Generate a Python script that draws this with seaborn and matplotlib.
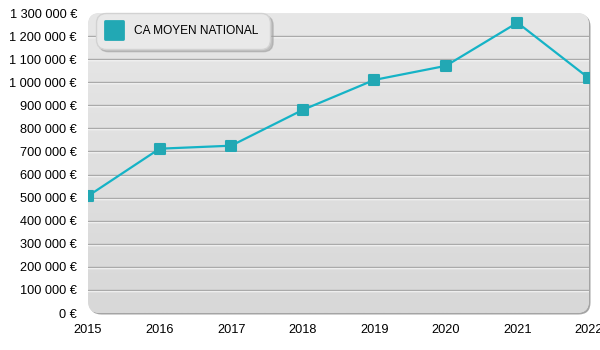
import numpy as np
import pandas as pd
import matplotlib
matplotlib.use("Agg")
import matplotlib.pyplot as plt
import matplotlib.transforms as mtransforms
from matplotlib.patches import FancyBboxPatch
from matplotlib.markers import MarkerStyle
from matplotlib.lines import Line2D
import seaborn as sns

# ---- data ----
years = [2015, 2016, 2017, 2018, 2019, 2020, 2021, 2022]
ca_moyen = [507000, 712000, 725000, 880000, 1010000, 1071000, 1258000, 1017000]
series_label = "CA MOYEN NATIONAL"
y_ticks = [0, 100000, 200000, 300000, 400000, 500000, 600000, 700000,
           800000, 900000, 1000000, 1100000, 1200000, 1300000]
grid_values = y_ticks[1:-1]

df = pd.DataFrame({"year": years, "ca": ca_moyen})

sns.set_style("white")
plt.rcParams["font.family"] = ["Liberation Sans", "DejaVu Sans"]
plt.rcParams["text.color"] = "black"

W, H, DPI = 600, 350, 100
FS = 9.2
LFS = 8.6
fig = plt.figure(figsize=(W / DPI, H / DPI), dpi=DPI)
L, R, T, B = 88, 589, 13, 313
ax = fig.add_axes([L / W, 1 - B / H, (R - L) / W, (B - T) / H])
ax.set_zorder(2)
ax.patch.set_visible(False)
for s in ax.spines.values():
    s.set_visible(False)

# rounded plot background + shadow (pixel coordinates)
ident = mtransforms.IdentityTransform()
shadow = FancyBboxPatch((L + 1.5, H - B - 1.5), R - L, B - T,
                        boxstyle="round,pad=0,rounding_size=12",
                        transform=ident, facecolor="#a4a4a4", edgecolor="none",
                        zorder=-2)
fig.add_artist(shadow)
bg = FancyBboxPatch((L, H - B), R - L, B - T,
                    boxstyle="round,pad=0,rounding_size=12",
                    transform=ident, facecolor="#e0e0e0", edgecolor="none",
                    zorder=-1)
fig.add_artist(bg)

ax.set_xlim(years[0], years[-1])
ax.set_ylim(y_ticks[0], y_ticks[-1])

grad = np.linspace(0, 1, 256).reshape(-1, 1)
cmap = matplotlib.colors.LinearSegmentedColormap.from_list("g", ["#e7e7e7", "#d8d8d8"])
im = ax.imshow(grad, extent=[years[0], years[-1], y_ticks[0], y_ticks[-1]],
               aspect="auto", cmap=cmap, zorder=0.6, origin="upper")
im.set_clip_path(bg)

# embossed grid lines
off = mtransforms.ScaledTranslation(0, -1.0 / DPI, fig.dpi_scale_trans)
ytrans = ax.get_yaxis_transform()
for v in grid_values:
    ax.plot([0, 1], [v, v], transform=ytrans + off, color="white", lw=1.0, zorder=1)
    ax.plot([0, 1], [v, v], transform=ytrans, color="#aaaaaa", lw=1.0, zorder=1.1)

line_color = "#15b3c6"
marker_color = "#22a8b4"
sq = MarkerStyle("s", joinstyle="round")
sns.lineplot(data=df, x="year", y="ca", ax=ax, color=line_color, lw=1.6,
             marker=sq, markersize=7.2, markerfacecolor=marker_color,
             markeredgecolor=marker_color, markeredgewidth=1.5, zorder=3)

ax.set_xlabel("")
ax.set_ylabel("")
ax.set_xticks(years)
ax.set_xticklabels([str(y) for y in years])
ax.set_yticks(y_ticks)
ax.set_yticklabels([f"{v:,}".replace(",", " ") + " €" for v in y_ticks])
ax.tick_params(axis="both", length=0, labelsize=FS, colors="black")
ax.tick_params(axis="y", pad=8)
ax.tick_params(axis="x", pad=8)
ax.grid(False)

handle = Line2D([], [], linestyle="", marker=sq, markersize=13,
                markerfacecolor=marker_color, markeredgecolor=marker_color,
                markeredgewidth=2)
leg = ax.legend([handle], [series_label], loc="upper left",
                bbox_to_anchor=(96 / W, 1 - 13 / H), bbox_transform=fig.transFigure,
                borderaxespad=0, fontsize=LFS, frameon=True, fancybox=True,
                facecolor="#e9e9e9", edgecolor="#d2d2d2", framealpha=1,
                borderpad=1.0, handlelength=1.0, handletextpad=1.18,
                shadow={"color": "#a0a0a0", "alpha": 0.55})
leg.get_frame().set_boxstyle("round,pad=0,rounding_size=0.8")
for t in leg.get_texts():
    t.set_color("black")
leg.set_zorder(5)

fig.savefig("out.png", dpi=DPI)
